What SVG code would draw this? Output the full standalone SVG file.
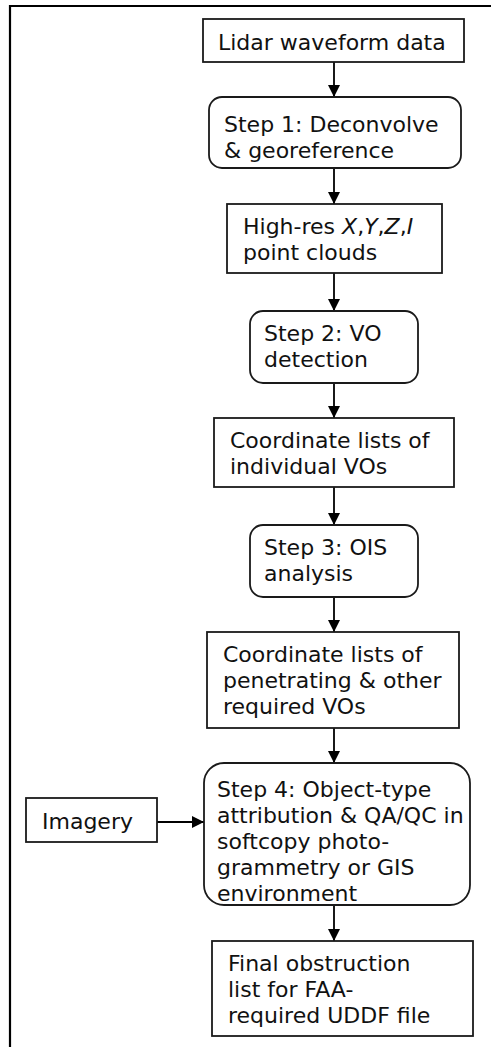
<svg xmlns="http://www.w3.org/2000/svg" width="491" height="1047" viewBox="0 0 491 1047">
<style>
.box{fill:#fff;stroke:#1a1a1a;stroke-width:1.8}
.t{font-family:"DejaVu Sans",Verdana,sans-serif;font-size:22px;fill:#111}
.c{stroke:#000;stroke-width:1.8;fill:none;marker-end:url(#ah)}
</style>
<defs>
<marker id="ah" markerUnits="userSpaceOnUse" markerWidth="12" markerHeight="12" refX="10" refY="5" orient="auto" viewBox="0 0 10 10">
<path d="M0,0 L10,5 L0,10 Z" fill="#000"/>
</marker>
</defs>
<rect width="491" height="1047" fill="#fff"/>
<path d="M10,1047 V6 H491" fill="none" stroke="#000" stroke-width="2.2"/>
<g id="connectors">
<line class="c" x1="334" y1="62" x2="334" y2="97"/>
<line class="c" x1="334" y1="168" x2="334" y2="204"/>
<line class="c" x1="334" y1="273" x2="334" y2="311"/>
<line class="c" x1="334" y1="383" x2="334" y2="418"/>
<line class="c" x1="334" y1="487" x2="334" y2="525"/>
<line class="c" x1="334" y1="597" x2="334" y2="632"/>
<line class="c" x1="334" y1="728" x2="334" y2="763"/>
<line class="c" x1="157" y1="822" x2="204" y2="822"/>
<line class="c" x1="334" y1="905" x2="334" y2="941"/>
</g>
<g id="n-lidar">
<rect class="box" x="203" y="19" width="261" height="43"/>
<text class="t" x="218" y="50">Lidar waveform data</text>
</g>
<g id="n-step1">
<rect class="box" x="209" y="97" width="252" height="71" rx="13"/>
<text class="t" x="224" y="132">Step 1: Deconvolve</text>
<text class="t" x="224" y="158">&amp; georeference</text>
</g>
<g id="n-points">
<rect class="box" x="227" y="204" width="215" height="69"/>
<text class="t" x="243" y="234">High-res <tspan font-style="italic">X</tspan>,<tspan font-style="italic">Y</tspan>,<tspan font-style="italic">Z</tspan>,<tspan font-style="italic">I</tspan></text>
<text class="t" x="243" y="260">point clouds</text>
</g>
<g id="n-step2">
<rect class="box" x="250" y="311" width="168" height="72" rx="13"/>
<text class="t" x="264" y="341">Step 2: VO</text>
<text class="t" x="264" y="367">detection</text>
</g>
<g id="n-coord1">
<rect class="box" x="214" y="418" width="240" height="69"/>
<text class="t" x="230" y="448">Coordinate lists of</text>
<text class="t" x="230" y="474">individual VOs</text>
</g>
<g id="n-step3">
<rect class="box" x="250" y="525" width="168" height="72" rx="13"/>
<text class="t" x="264" y="555">Step 3: OIS</text>
<text class="t" x="264" y="581">analysis</text>
</g>
<g id="n-coord2">
<rect class="box" x="207" y="632" width="252" height="96"/>
<text class="t" x="223" y="662">Coordinate lists of</text>
<text class="t" x="223" y="688">penetrating &amp; other</text>
<text class="t" x="223" y="714">required VOs</text>
</g>
<g id="n-step4">
<rect class="box" x="204" y="763" width="266" height="142" rx="20"/>
<text class="t" x="217" y="797">Step 4: Object-type</text>
<text class="t" x="217" y="823">attribution &amp; QA/QC in</text>
<text class="t" x="217" y="849">softcopy photo-</text>
<text class="t" x="217" y="875">grammetry or GIS</text>
<text class="t" x="217" y="901">environment</text>
</g>
<g id="n-imagery">
<rect class="box" x="26" y="798" width="131" height="44"/>
<text class="t" x="42" y="829">Imagery</text>
</g>
<g id="n-final">
<rect class="box" x="212" y="941" width="261" height="95"/>
<text class="t" x="228" y="971">Final obstruction</text>
<text class="t" x="228" y="997">list for FAA-</text>
<text class="t" x="228" y="1023">required UDDF file</text>
</g>
</svg>
